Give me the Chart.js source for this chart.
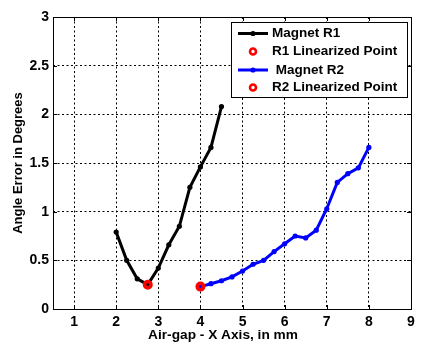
<!DOCTYPE html>
<html><head><meta charset="utf-8">
<script src="https://cdn.jsdelivr.net/npm/chart.js@4/dist/chart.umd.min.js"></script>
<style>html,body{margin:0;padding:0;background:#fff;}canvas{display:block;}</style>
</head><body>
<canvas id="c" width="422" height="356"></canvas>
<script>
// ---- data ----
const r1X = [2, 2.25, 2.5, 2.75, 3, 3.25, 3.5, 3.75, 4, 4.25, 4.5];
const r1Y = [0.79, 0.50, 0.31, 0.25, 0.42, 0.66, 0.85, 1.25, 1.46, 1.66, 2.08];
const r2X = [4, 4.25, 4.5, 4.75, 5, 5.25, 5.5, 5.75, 6, 6.25, 6.5, 6.75, 7, 7.25, 7.5, 7.75, 8];
const r2Y = [0.23, 0.26, 0.29, 0.33, 0.39, 0.46, 0.50, 0.59, 0.67, 0.75, 0.73, 0.81, 1.03, 1.30, 1.39, 1.45, 1.66];
const r1LinX = [2.75];
const r1LinY = [0.25];
const r2LinX = [4];
const r2LinY = [0.23];
const xTicks = [1, 2, 3, 4, 5, 6, 7, 8, 9];
const yTicks = [0, 0.5, 1, 1.5, 2, 2.5, 3];
const seriesNames = ['Magnet R1', 'R1 Linearized Point', ' Magnet R2', 'R2 Linearized Point'];
const xTitle = 'Air-gap - X Axis, in mm';
const yTitle = 'Angle Error in Degrees';

const FONT = '"Liberation Sans", Arial, sans-serif';
const pts = (xs, ys) => xs.map((x, i) => ({x: x, y: ys[i]}));

const frameLegend = {
  id: 'frameLegend',
  afterDraw(chart) {
    const ctx = chart.ctx;
    const a = chart.chartArea;
    const xs = chart.scales.x, ys = chart.scales.y;
    ctx.save();
    ctx.strokeStyle = '#000';
    ctx.lineWidth = 1;
    ctx.setLineDash([]);
    // inward ticks
    ctx.beginPath();
    xTicks.forEach(v => {
      const px = Math.round(xs.getPixelForValue(v)) + 0.5;
      ctx.moveTo(px, a.bottom); ctx.lineTo(px, a.bottom - 4);
      ctx.moveTo(px, a.top); ctx.lineTo(px, a.top + 4);
    });
    yTicks.forEach(v => {
      const py = Math.round(ys.getPixelForValue(v)) + 0.5;
      ctx.moveTo(a.left, py); ctx.lineTo(a.left + 4, py);
      ctx.moveTo(a.right, py); ctx.lineTo(a.right - 4, py);
    });
    ctx.stroke();
    // frame box
    ctx.strokeRect(Math.round(a.left) + 0.5, Math.round(a.top) + 0.5,
                   Math.round(a.right - a.left), Math.round(a.bottom - a.top));
    // x axis title
    ctx.fillStyle = '#000';
    ctx.font = 'bold 13.7px ' + FONT;
    ctx.textAlign = 'center';
    ctx.textBaseline = 'middle';
    ctx.fillText(xTitle, 223, 335);
    // legend
    const bx = 231, by = 22, bw = 176, bh = 75;
    ctx.fillStyle = '#fff';
    ctx.fillRect(bx, by, bw, bh);
    ctx.strokeRect(bx + 0.5, by + 0.5, bw, bh);
    const rows = [33.5, 51.5, 70, 87.5];
    const ds = chart.data.datasets;
    ctx.font = 'bold 13.5px ' + FONT;
    ctx.textAlign = 'left';
    rows.forEach((ry, i) => {
      const d = ds[i];
      if (d.showLine !== false) {
        ctx.strokeStyle = d.borderColor;
        ctx.lineWidth = 3;
        ctx.beginPath(); ctx.moveTo(238, ry); ctx.lineTo(268, ry); ctx.stroke();
        ctx.fillStyle = d.borderColor;
        ctx.beginPath(); ctx.arc(253, ry, 2.6, 0, Math.PI * 2); ctx.fill();
      } else {
        ctx.strokeStyle = d.borderColor;
        ctx.lineWidth = 2.6;
        ctx.fillStyle = '#fff';
        ctx.beginPath(); ctx.arc(253, ry, 3, 0, Math.PI * 2); ctx.fill(); ctx.stroke();
      }
      ctx.fillStyle = '#000';
      ctx.fillText(d.label, 272, ry);
    });
    ctx.restore();
  }
};

new Chart(document.getElementById('c'), {
  type: 'scatter',
  data: {
    datasets: [
      { label: seriesNames[0], data: pts(r1X, r1Y), showLine: true, borderColor: '#000000', backgroundColor: '#000000',
        borderWidth: 3, pointRadius: 2.6, pointBorderWidth: 0, order: 2 },
      { label: seriesNames[1], data: pts(r1LinX, r1LinY), showLine: false, borderColor: '#ff0000', backgroundColor: 'rgba(0,0,0,0)',
        pointRadius: 3.2, pointBorderWidth: 3.6, order: 0 },
      { label: seriesNames[2], data: pts(r2X, r2Y), showLine: true, borderColor: '#0000ff', backgroundColor: '#0000ff',
        borderWidth: 3, pointRadius: 2.6, pointBorderWidth: 0, order: 2 },
      { label: seriesNames[3], data: pts(r2LinX, r2LinY), showLine: false, borderColor: '#ff0000', backgroundColor: 'rgba(0,0,0,0)',
        pointRadius: 3.2, pointBorderWidth: 3.6, order: 0 }
    ]
  },
  options: {
    responsive: false,
    animation: false,
    layout: { padding: { top: 17, right: 11, left: 0, bottom: 0 } },
    plugins: { legend: { display: false }, tooltip: { enabled: false } },
    scales: {
      x: {
        type: 'linear', min: 0.5, max: 9,
        afterBuildTicks: ax => { ax.ticks = xTicks.map(v => ({value: v})); },
        afterFit: ax => { ax.height = 47; },
        grid: { color: '#000', lineWidth: 1, drawTicks: false },
        border: { display: false, dash: [2, 2.5] },
        ticks: { color: '#000', padding: 5, maxRotation: 0, callback: v => String(v),
                 font: { family: FONT, size: 14, weight: 'bold' } }
      },
      y: {
        type: 'linear', min: 0, max: 3,
        afterBuildTicks: ax => { ax.ticks = yTicks.map(v => ({value: v})); },
        afterFit: ax => { ax.width = 53; },
        grid: { color: '#000', lineWidth: 1, drawTicks: false },
        border: { display: false, dash: [2, 2.5] },
        ticks: { color: '#000', padding: 4, callback: v => String(v),
                 font: { family: FONT, size: 14, weight: 'bold' } },
        title: { display: true, text: yTitle, color: '#000', padding: { top: 11, bottom: 0 },
                 font: { family: FONT, size: 13, weight: 'bold' } }
      }
    }
  },
  plugins: [frameLegend]
});
</script>
</body></html>
